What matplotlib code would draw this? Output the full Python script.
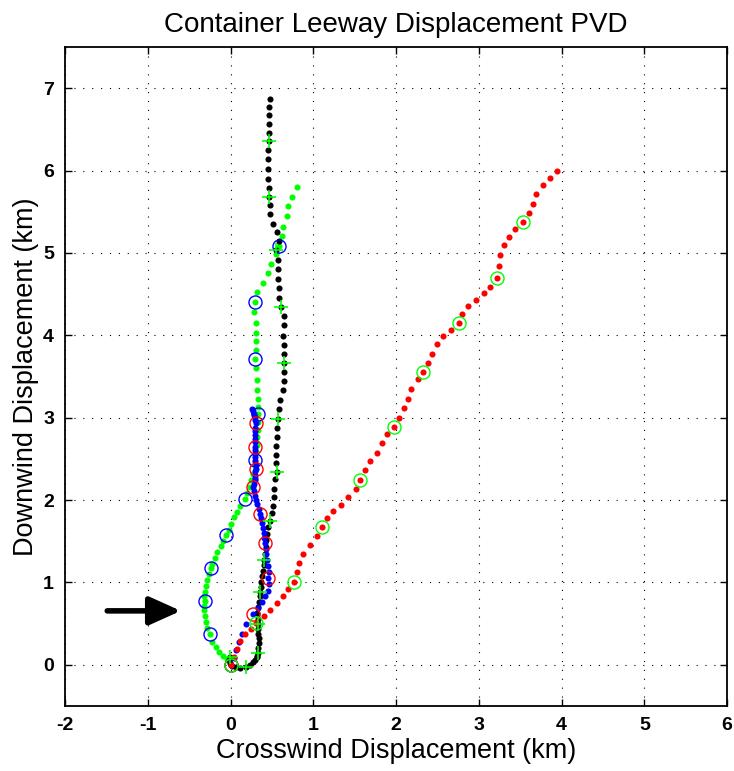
import matplotlib
matplotlib.use("Agg")
import matplotlib.pyplot as plt

# ---- data (km) ----
# Black track (green '+' markers every 6th point)
black_x = [-0.01, -0.02, -0.01, 0.02, 0.06, 0.11, 0.19, 0.24, 0.27, 0.30, 0.315, 0.325,
           0.33, 0.335, 0.34, 0.34, 0.335, 0.335, 0.335, 0.33, 0.32, 0.33, 0.34, 0.35,
           0.355, 0.365, 0.37, 0.38, 0.39, 0.40, 0.41, 0.42, 0.43, 0.43, 0.44, 0.45,
           0.475, 0.50, 0.51, 0.52, 0.53, 0.54, 0.56, 0.55, 0.55, 0.55, 0.56, 0.565,
           0.57, 0.58, 0.60, 0.63, 0.65, 0.645, 0.64, 0.64, 0.64, 0.63, 0.65, 0.645,
           0.61, 0.59, 0.58, 0.57, 0.57, 0.57, 0.55, 0.58, 0.56, 0.51, 0.48, 0.475,
           0.47, 0.46, 0.455, 0.45, 0.45, 0.45, 0.46, 0.46, 0.46, 0.465, 0.47, 0.475]
black_y = [0.10, 0.06, 0.02, -0.01, -0.03, -0.04, -0.025, 0.0, 0.03, 0.06, 0.09, 0.11,
           0.14, 0.20, 0.26, 0.32, 0.38, 0.44, 0.49, 0.56, 0.63, 0.70, 0.76, 0.83,
           0.89, 0.95, 1.01, 1.08, 1.14, 1.21, 1.27, 1.35, 1.43, 1.51, 1.59, 1.67,
           1.75, 1.84, 1.93, 2.04, 2.14, 2.25, 2.34, 2.45, 2.55, 2.66, 2.77, 2.88,
           2.99, 3.10, 3.22, 3.34, 3.45, 3.56, 3.67, 3.77, 3.88, 3.99, 4.12, 4.23,
           4.34, 4.45, 4.57, 4.68, 4.80, 4.91, 5.03, 5.14, 5.25, 5.35, 5.47, 5.58,
           5.68, 5.79, 5.90, 6.02, 6.14, 6.25, 6.36, 6.46, 6.56, 6.67, 6.77, 6.87]

# Green track (blue circle markers every 6th point)
green_x = [0.0, -0.04, -0.09, -0.14, -0.18, -0.22,
           -0.25, -0.28, -0.30, -0.31, -0.32, -0.32,
           -0.31, -0.32, -0.31, -0.30, -0.28, -0.26,
           -0.24, -0.22, -0.19, -0.16, -0.12, -0.09,
           -0.05, -0.02, 0.01, 0.04, 0.08, 0.12,
           0.17, 0.20, 0.23, 0.25, 0.27, 0.29,
           0.30, 0.31, 0.32, 0.32, 0.33, 0.33,
           0.335, 0.335, 0.335, 0.32, 0.32, 0.31,
           0.29, 0.31, 0.31, 0.31, 0.31, 0.28,
           0.30, 0.32, 0.39, 0.45, 0.49, 0.55,
           0.585, 0.62, 0.63, 0.68, 0.69, 0.74, 0.80]
green_y = [0.0, 0.07, 0.11, 0.16, 0.22, 0.28,
           0.38, 0.45, 0.52, 0.59, 0.66, 0.71,
           0.77, 0.83, 0.89, 0.96, 1.03, 1.10,
           1.17, 1.23, 1.30, 1.37, 1.44, 1.50,
           1.57, 1.64, 1.71, 1.79, 1.86, 1.93,
           2.01, 2.08, 2.16, 2.24, 2.32, 2.41,
           2.49, 2.58, 2.67, 2.76, 2.85, 2.95,
           3.04, 3.13, 3.23, 3.34, 3.46, 3.60,
           3.71, 3.82, 3.93, 4.03, 4.15, 4.28,
           4.41, 4.53, 4.64, 4.76, 4.87, 4.99,
           5.09, 5.20, 5.32, 5.45, 5.57, 5.68, 5.80]

# Blue track (red circle markers every 6th point)
blue_x = [0.0, 0.04, 0.07, 0.10, 0.14, 0.19,
          0.27, 0.33, 0.38, 0.42, 0.45, 0.46,
          0.455, 0.46, 0.45, 0.44, 0.43, 0.43,
          0.42, 0.41, 0.40, 0.39, 0.38, 0.37,
          0.36, 0.34, 0.32, 0.31, 0.30, 0.28,
          0.27, 0.28, 0.29, 0.29, 0.30, 0.30,
          0.31, 0.31, 0.30, 0.30, 0.30, 0.29,
          0.29, 0.29, 0.29, 0.30, 0.30, 0.30,
          0.31, 0.30, 0.29, 0.28, 0.27, 0.26]
blue_y = [0.0, 0.08, 0.18, 0.28, 0.38, 0.49,
          0.615, 0.69, 0.76, 0.83, 0.90, 0.98,
          1.06, 1.13, 1.20, 1.27, 1.34, 1.41,
          1.48, 1.54, 1.60, 1.66, 1.72, 1.78,
          1.83, 1.89, 1.95, 2.00, 2.05, 2.11,
          2.16, 2.20, 2.24, 2.27, 2.31, 2.35,
          2.38, 2.43, 2.47, 2.52, 2.56, 2.61,
          2.65, 2.70, 2.74, 2.79, 2.84, 2.88,
          2.93, 2.97, 3.01, 3.05, 3.08, 3.11]

# Red track (green circle markers every 6th point)
red_x = [0.0, 0.04, 0.08, 0.11, 0.17, 0.25,
         0.31, 0.40, 0.48, 0.56, 0.63, 0.70,
         0.77, 0.80, 0.83, 0.88, 0.96, 1.04,
         1.11, 1.16, 1.24, 1.34, 1.42, 1.51,
         1.57, 1.62, 1.69, 1.77, 1.83, 1.89,
         1.97, 2.04, 2.10, 2.14, 2.18, 2.26,
         2.33, 2.39, 2.44, 2.50, 2.57, 2.66,
         2.76, 2.80, 2.87, 2.96, 3.06, 3.14,
         3.22, 3.24, 3.26, 3.31, 3.37, 3.44,
         3.53, 3.61, 3.65, 3.69, 3.78, 3.86, 3.94]
red_y = [0.0, 0.10, 0.19, 0.29, 0.38, 0.43,
         0.51, 0.59, 0.67, 0.75, 0.84, 0.92,
         1.01, 1.13, 1.24, 1.35, 1.45, 1.56,
         1.67, 1.78, 1.87, 1.94, 2.04, 2.14,
         2.24, 2.36, 2.47, 2.57, 2.69, 2.80,
         2.89, 3.00, 3.12, 3.23, 3.35, 3.47,
         3.56, 3.66, 3.77, 3.89, 3.99, 4.06,
         4.15, 4.26, 4.36, 4.43, 4.51, 4.59,
         4.70, 4.84, 4.97, 5.10, 5.19, 5.29,
         5.38, 5.48, 5.60, 5.72, 5.82, 5.91, 6.00]

arrow_tail = (-1.49, 0.655)
arrow_tip = (-0.60, 0.655)

x_ticks = [-2, -1, 0, 1, 2, 3, 4, 5, 6]
y_ticks = [0, 1, 2, 3, 4, 5, 6, 7]

title = "Container Leeway Displacement PVD"
xlabel = "Crosswind Displacement (km)"
ylabel = "Downwind Displacement (km)"

# ---- figure ----
plt.rcParams['font.family'] = ['Liberation Sans', 'DejaVu Sans']
fig = plt.figure(figsize=(7.34, 7.71), dpi=100)
ax = fig.add_axes([0.0886, 0.0843, 0.902, 0.8547])

dot = dict(linestyle='none', marker='o', markersize=4.4, markeredgewidth=0)
ax.plot(green_x, green_y, color=(0, 1, 0), **dot, zorder=3)
ax.plot(black_x, black_y, color='black', **dot, zorder=3)
ax.plot(blue_x, blue_y, color=(0, 0, 1), **dot, zorder=3)
ax.plot(red_x, red_y, color=(1, 0, 0), **dot, zorder=3)

circ = dict(linestyle='none', marker='o', markersize=9.4, markerfacecolor='none',
            markeredgewidth=1.0)
ax.plot(green_x, green_y, markevery=slice(0, len(green_x) - 1, 6),
        markeredgecolor=(0, 0, 1), **circ, zorder=4)
ax.plot(blue_x, blue_y, markevery=slice(0, len(blue_x), 6),
        markeredgecolor=(1, 0, 0), **circ, zorder=4)
ax.plot(red_x, red_y, markevery=slice(0, len(red_x) - 1, 6),
        markeredgecolor=(0, 1, 0), **circ, zorder=4)
ax.plot(black_x, black_y, markevery=slice(0, len(black_x), 6), linestyle='none',
        marker='+', markersize=10, markeredgewidth=1.2, color=(0, 1, 0), zorder=4)

ax.annotate('', xy=arrow_tip, xytext=arrow_tail,
            arrowprops=dict(arrowstyle='-|>,head_length=1.0,head_width=0.45',
                            mutation_scale=19, lw=4.0, color='black',
                            shrinkA=0, shrinkB=0), zorder=5)

ax.set_xlim(-2, 6)
ax.set_ylim(-0.5, 7.5)
ax.set_xticks(x_ticks)
ax.set_yticks(y_ticks)
ax.set_xticklabels([str(v) for v in x_ticks], fontsize=14, fontweight='bold')
ax.set_yticklabels([str(v) for v in y_ticks], fontsize=14, fontweight='bold')
ax.tick_params(direction='in', length=5, width=1.0, top=True, right=True, pad=8)
ax.grid(True, color='black', linestyle=(0, (1, 7)), linewidth=0.8)
for s in ax.spines.values():
    s.set_linewidth(1.3)

ax.set_xlabel(xlabel, fontsize=19.5, labelpad=3)
ax.set_ylabel(ylabel, fontsize=19.5, labelpad=3)
ax.set_title(title, fontsize=20, pad=11)

fig.savefig('out.png', dpi=100)
